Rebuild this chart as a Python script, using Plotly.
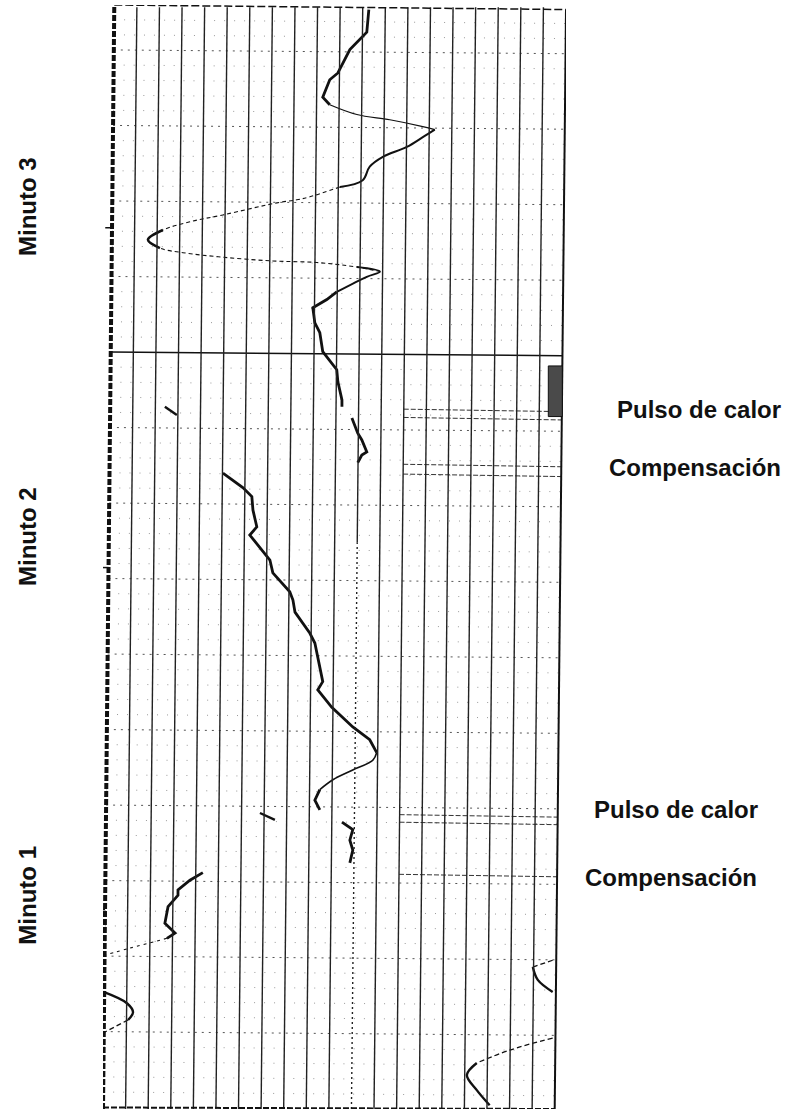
import plotly.graph_objects as go

# Strip-chart recording: signal (chart divisions, 0-20) against time (chart units, bottom to top)
N_DIV = 20
T_TOP = 146.2
SKEW = 0.5  # the paper sits slightly rotated: columns drift this many divisions from bottom to top
X_MAX = N_DIV + SKEW

# Recorded pen trace, split where the pen stroke changes weight
top_slow_u = [11.77, 11.68, 10.93, 10.62, 10.40, 10.04, 9.73, 10.04]
top_slow_t = [145.6, 142.6, 140.3, 138.5, 137.2, 136.3, 134.0, 133.0]
top_swing_u = [10.04, 11.24, 12.70, 14.16, 14.69]
top_swing_t = [133.0, 131.7, 131.0, 130.1, 129.7]
top_return_u = [14.69, 14.16, 13.45, 12.39, 11.81, 11.50, 10.49]
top_return_t = [129.7, 128.7, 127.4, 126.1, 124.8, 123.0, 122.1]
sweep_u = [10.49, 9.16, 8.58, 7.70, 5.31, 3.85, 2.65, 1.99, 2.52, 3.54, 5.31, 7.52, 9.47, 11.24, 12.26]
sweep_t = [122.1, 120.8, 120.4, 120.0, 118.4, 117.5, 116.4, 115.1, 114.0, 113.4, 112.8, 112.3, 112.1, 111.5, 110.9]
left_tip_u = [2.65, 1.99, 2.52]
left_tip_t = [116.4, 115.1, 114.0]
right_tip_u = [11.24, 12.26, 11.68, 10.35]
right_tip_t = [111.5, 110.9, 110.2, 108.2]
drift3_u = [10.35, 9.91, 9.29, 9.38, 9.60, 9.73, 10.35, 10.40, 10.58, 10.58]
drift3_t = [108.2, 107.2, 106.1, 104.1, 102.8, 100.3, 97.9, 96.3, 93.9, 93.0]
after_pulse2_u = [11.02, 11.28, 11.46, 11.68, 11.46, 11.28]
after_pulse2_t = [91.5, 89.5, 88.6, 87.0, 86.6, 85.6]
stray2_u = [2.74, 3.27]
stray2_t = [93.0, 91.9]
drift2_u = [5.31, 6.19, 6.59, 6.64, 6.81, 6.50, 7.39, 7.52, 8.27, 8.41, 8.50, 9.16, 9.38,
            9.60, 9.73, 9.51, 10.13, 11.06, 11.81, 12.12]
drift2_t = [84.2, 82.3, 81.1, 79.3, 77.1, 76.0, 72.7, 71.0, 68.5, 67.4, 65.8, 63.0, 61.7,
            58.5, 56.6, 55.5, 53.2, 50.6, 48.9, 47.2]
peak_return_u = [12.12, 11.95, 11.06, 10.18, 9.60]
peak_return_t = [47.2, 46.2, 44.9, 43.6, 42.3]
pulse1_u = [9.60, 9.38, 9.60]
pulse1_t = [42.3, 40.9, 39.6]
stray1_u = [6.95, 7.61]
stray1_t = [39.2, 38.3]
after_pulse1_u = [10.58, 11.06, 10.93, 11.06, 10.93]
after_pulse1_t = [38.0, 37.0, 35.6, 34.3, 32.6]
drift1_u = [4.42, 3.85, 3.32, 3.32, 2.88, 2.74, 3.19, 2.83]
drift1_t = [31.3, 30.3, 29.0, 28.3, 26.8, 24.6, 23.3, 22.6]
drift1_tail_u = [2.83, 1.19, 0.09]
drift1_tail_t = [22.6, 21.3, 20.4]
left_bump_u = [0.02, 1.06, 1.33, 1.11]
left_bump_t = [15.5, 14.0, 12.8, 11.8]
left_bump_tail_u = [1.11, 0.09]
left_bump_tail_t = [11.8, 10.2]
right_bump_in_u = [19.91, 19.03]
right_bump_in_t = [19.7, 18.8]
right_bump_u = [19.03, 19.25, 19.91]
right_bump_t = [18.8, 17.1, 15.5]
start_in_u = [19.91, 18.01, 16.55]
start_in_t = [9.4, 7.8, 6.1]
start_u = [16.55, 16.11, 16.55, 17.12]
start_t = [6.1, 4.5, 2.5, 0.5]

# Event marks
minute_ticks_t = [116.7, 71.7, 26.4]
minute_labels = ["Minuto 3", "Minuto 2", "Minuto 1"]
minute_label_t = [119.5, 75.8, 28.3]
minute_label_u = -3.35
event_labels = ["Pulso de calor", "Compensación", "Pulso de calor", "Compensación"]
event_label_t = [92.6, 85.0, 39.6, 30.7]
event_label_u = [22.65, 22.3, 21.64, 21.24]
heater_box_t = (91.7, 98.4)
event_lines_t = [92.6, 91.5, 85.3, 84.0, 38.9, 37.9, 31.0]
minute_boundary_t = 100.0

BLACK = "#111111"


def skew(t):
    return SKEW * t / T_TOP


def px(u):
    # position along the signal axis as a fraction of the plotting area
    return u / X_MAX


def py(t):
    return t / T_TOP


fig = go.Figure()

pieces = [
    (top_slow_u, top_slow_t, 2.8, "solid", "linear"),
    (top_swing_u, top_swing_t, 1.2, "solid", "spline"),
    (top_return_u, top_return_t, 2.0, "solid", "spline"),
    (sweep_u, sweep_t, 1.1, "4px,3px", "spline"),
    (left_tip_u, left_tip_t, 2.6, "solid", "spline"),
    (right_tip_u, right_tip_t, 2.0, "solid", "spline"),
    (drift3_u, drift3_t, 2.8, "solid", "linear"),
    (after_pulse2_u, after_pulse2_t, 2.8, "solid", "linear"),
    (stray2_u, stray2_t, 2.4, "solid", "linear"),
    (drift2_u, drift2_t, 2.8, "solid", "linear"),
    (peak_return_u, peak_return_t, 1.6, "solid", "spline"),
    (pulse1_u, pulse1_t, 2.8, "solid", "linear"),
    (stray1_u, stray1_t, 2.4, "solid", "linear"),
    (after_pulse1_u, after_pulse1_t, 2.8, "solid", "linear"),
    (drift1_u, drift1_t, 2.8, "solid", "linear"),
    (drift1_tail_u, drift1_tail_t, 1.1, "3px,4px", "spline"),
    (left_bump_u, left_bump_t, 2.4, "solid", "spline"),
    (left_bump_tail_u, left_bump_tail_t, 1.3, "5px,3px", "spline"),
    (right_bump_in_u, right_bump_in_t, 1.3, "5px,3px", "spline"),
    (right_bump_u, right_bump_t, 2.4, "solid", "spline"),
    (start_in_u, start_in_t, 1.3, "5px,3px", "spline"),
    (start_u, start_t, 2.4, "solid", "spline"),
]
for u, t, w, dash, shape in pieces:
    fig.add_trace(go.Scatter(x=u, y=t, mode="lines",
                             line=dict(color=BLACK, width=w, dash=dash, shape=shape),
                             hoverinfo="skip", showlegend=False))

shapes = []

# minor horizontal rulings (sparse dots)
for i in range(1, int(T_TOP / 2) + 1):
    t = 2.0 * i
    if i % 5 == 0 or t >= T_TOP - 0.5:
        continue
    shapes.append(dict(type="line", xref="x", yref="y", layer="below",
                       x0=skew(t), y0=t + 0.25, x1=N_DIV + skew(t), y1=t - 0.25,
                       line=dict(color="#9a9a9a", width=1, dash="1px,9px")))

# major horizontal rulings
for k in range(1, 15):
    t = 10.0 * k
    if t == minute_boundary_t:
        continue
    shapes.append(dict(type="line", xref="x", yref="y", layer="below",
                       x0=skew(t), y0=t + 0.25, x1=N_DIV + skew(t), y1=t - 0.25,
                       line=dict(color="#555555", width=1, dash="2px,5px")))

# rulings marking heater pulse and compensation on the right part of the chart
for t in event_lines_t:
    shapes.append(dict(type="line", xref="x", yref="y", layer="below",
                       x0=13 + skew(t), y0=t + 0.08, x1=N_DIV + skew(t), y1=t - 0.25,
                       line=dict(color="#333333", width=1, dash="5px,2px")))

# solid line at the minute boundary
t = minute_boundary_t
shapes.append(dict(type="line", xref="x", yref="y",
                   x0=skew(t), y0=t + 0.25, x1=N_DIV + skew(t), y1=t - 0.25,
                   line=dict(color=BLACK, width=1.5)))

# vertical columns (follow the paper rotation)
for k in range(1, N_DIV):
    if k == 11:
        shapes.append(dict(type="line", xref="x", yref="y",
                           x0=k, y0=0, x1=k + skew(75), y1=75,
                           line=dict(color="#222222", width=1.4, dash="2px,3px")))
        shapes.append(dict(type="line", xref="x", yref="y",
                           x0=k + skew(75), y0=75, x1=k + SKEW, y1=T_TOP - 0.3,
                           line=dict(color="#222222", width=1.4)))
    else:
        shapes.append(dict(type="line", xref="x", yref="y",
                           x0=k, y0=0, x1=k + SKEW, y1=T_TOP - 0.3,
                           line=dict(color="#222222", width=1.4)))

# chart frame
shapes.append(dict(type="line", xref="x", yref="y", x0=0, y0=0, x1=SKEW, y1=T_TOP,
                   line=dict(color=BLACK, width=4, dash="6px,2px")))
shapes.append(dict(type="line", xref="x", yref="y", x0=N_DIV, y0=0, x1=N_DIV + SKEW, y1=T_TOP - 0.6,
                   line=dict(color=BLACK, width=2)))
shapes.append(dict(type="line", xref="x", yref="y", x0=SKEW, y0=T_TOP, x1=N_DIV + SKEW, y1=T_TOP - 0.6,
                   line=dict(color=BLACK, width=1.5, dash="8px,3px")))
shapes.append(dict(type="line", xref="x", yref="y", x0=0, y0=0.2, x1=N_DIV, y1=0.0,
                   line=dict(color=BLACK, width=2, dash="6px,2px")))

# minute ticks on the left margin
for t in minute_ticks_t:
    shapes.append(dict(type="line", xref="x", yref="y",
                       x0=skew(t) - 0.3, y0=t, x1=skew(t), y1=t,
                       line=dict(color=BLACK, width=1.5)))

# heater pulse marker at the right edge
t0, t1 = heater_box_t
shapes.append(dict(type="rect", xref="x", yref="y",
                   x0=N_DIV + skew(t1) - 0.62, x1=N_DIV + skew(t1), y0=t0, y1=t1,
                   fillcolor="#4a4a4a", line=dict(color=BLACK, width=1)))

annotations = []
for label, t in zip(minute_labels, minute_label_t):
    annotations.append(dict(x=px(minute_label_u), y=py(t), xref="paper", yref="paper",
                            text="<b>" + label + "</b>", textangle=-90,
                            showarrow=False, xanchor="center", yanchor="middle",
                            font=dict(family="Liberation Sans", size=24, color=BLACK)))
for label, t, u in zip(event_labels, event_label_t, event_label_u):
    annotations.append(dict(x=px(u), y=py(t), xref="paper", yref="paper",
                            text="<b>" + label + "</b>",
                            showarrow=False, xanchor="left", yanchor="middle",
                            font=dict(family="Liberation Sans", size=24, color=BLACK)))

fig.update_layout(
    width=794, height=1113,
    margin=dict(l=103, r=228, t=5, b=4),
    paper_bgcolor="white", plot_bgcolor="white",
    xaxis=dict(range=[0, X_MAX], visible=False, fixedrange=True),
    yaxis=dict(range=[0, T_TOP], visible=False, fixedrange=True),
    shapes=shapes, annotations=annotations, showlegend=False,
)

fig.write_html("out.html")
